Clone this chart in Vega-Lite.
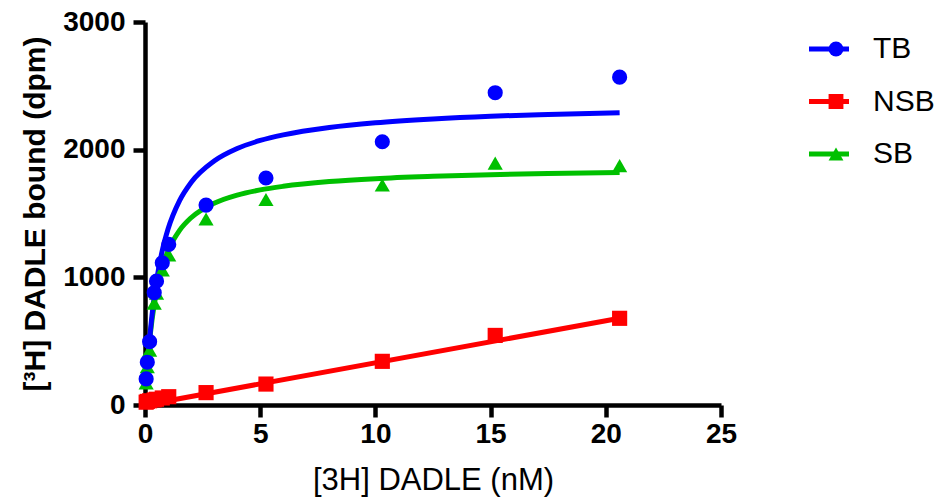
{
  "$schema": "https://vega.github.io/schema/vega-lite/v6.json",
  "width": 576,
  "height": 383,
  "autosize": {"type": "none"},
  "padding": {"left": 145, "top": 22, "right": 219, "bottom": 96},
  "background": "white",
  "config": {
    "view": {"stroke": null},
    "font": "Liberation Sans",
    "axis": {
      "grid": false,
      "domainColor": "black",
      "domainWidth": 4.5,
      "tickColor": "black",
      "tickWidth": 4.5,
      "tickSize": 12,
      "labelFont": "Liberation Sans",
      "labelFontWeight": "bold",
      "labelFontSize": 28,
      "labelColor": "black",
      "labelFlush": false,
      "labelOverlap": false,
      "format": "d",
      "titleColor": "black",
      "titleFont": "Liberation Sans"
    }
  },
  "datasets": {
    "pts": [
      {"series": "SB", "x": 0.05, "y": 172}, {"series": "SB", "x": 0.1, "y": 300}, {"series": "SB", "x": 0.2, "y": 430}, {"series": "SB", "x": 0.4, "y": 798}, {"series": "SB", "x": 0.5, "y": 875}, {"series": "SB", "x": 0.75, "y": 1057}, {"series": "SB", "x": 1.03, "y": 1175}, {"series": "SB", "x": 2.65, "y": 1457}, {"series": "SB", "x": 5.25, "y": 1610}, {"series": "SB", "x": 10.3, "y": 1723}, {"series": "SB", "x": 15.2, "y": 1895}, {"series": "SB", "x": 20.6, "y": 1875},
      {"series": "TB", "x": 0.05, "y": 204}, {"series": "TB", "x": 0.1, "y": 335}, {"series": "TB", "x": 0.2, "y": 496}, {"series": "TB", "x": 0.4, "y": 880}, {"series": "TB", "x": 0.5, "y": 970}, {"series": "TB", "x": 0.75, "y": 1114}, {"series": "TB", "x": 1.03, "y": 1258}, {"series": "TB", "x": 2.65, "y": 1566}, {"series": "TB", "x": 5.25, "y": 1778}, {"series": "TB", "x": 10.3, "y": 2062}, {"series": "TB", "x": 15.2, "y": 2446}, {"series": "TB", "x": 20.6, "y": 2568},
      {"series": "NSB", "x": 0.05, "y": 22}, {"series": "NSB", "x": 0.1, "y": 28}, {"series": "NSB", "x": 0.2, "y": 33}, {"series": "NSB", "x": 0.4, "y": 40}, {"series": "NSB", "x": 0.5, "y": 45}, {"series": "NSB", "x": 0.75, "y": 55}, {"series": "NSB", "x": 1.03, "y": 65}, {"series": "NSB", "x": 2.65, "y": 97}, {"series": "NSB", "x": 5.25, "y": 164}, {"series": "NSB", "x": 10.3, "y": 342}, {"series": "NSB", "x": 15.2, "y": 545}, {"series": "NSB", "x": 20.6, "y": 679}
    ],
    "fit": [
      {"curve": "SB", "x": 0.05, "y": 156}, {"curve": "SB", "x": 0.1, "y": 288}, {"curve": "SB", "x": 0.2, "y": 499}, {"curve": "SB", "x": 0.3, "y": 660}, {"curve": "SB", "x": 0.5, "y": 891}, {"curve": "SB", "x": 0.75, "y": 1079}, {"curve": "SB", "x": 1, "y": 1207}, {"curve": "SB", "x": 1.5, "y": 1368}, {"curve": "SB", "x": 2, "y": 1467}, {"curve": "SB", "x": 3, "y": 1580}, {"curve": "SB", "x": 4, "y": 1644}, {"curve": "SB", "x": 5, "y": 1685}, {"curve": "SB", "x": 6, "y": 1713}, {"curve": "SB", "x": 8, "y": 1750}, {"curve": "SB", "x": 10, "y": 1773}, {"curve": "SB", "x": 12.5, "y": 1791}, {"curve": "SB", "x": 15, "y": 1804}, {"curve": "SB", "x": 17.5, "y": 1813}, {"curve": "SB", "x": 20.6, "y": 1821},
      {"curve": "TB", "x": 0.05, "y": 154}, {"curve": "TB", "x": 0.1, "y": 289}, {"curve": "TB", "x": 0.2, "y": 515}, {"curve": "TB", "x": 0.3, "y": 697}, {"curve": "TB", "x": 0.5, "y": 971}, {"curve": "TB", "x": 0.75, "y": 1209}, {"curve": "TB", "x": 1, "y": 1378}, {"curve": "TB", "x": 1.5, "y": 1601}, {"curve": "TB", "x": 2, "y": 1743}, {"curve": "TB", "x": 3, "y": 1911}, {"curve": "TB", "x": 4, "y": 2009}, {"curve": "TB", "x": 5, "y": 2072}, {"curve": "TB", "x": 6, "y": 2116}, {"curve": "TB", "x": 8, "y": 2174}, {"curve": "TB", "x": 10, "y": 2211}, {"curve": "TB", "x": 12.5, "y": 2241}, {"curve": "TB", "x": 15, "y": 2262}, {"curve": "TB", "x": 17.5, "y": 2276}, {"curve": "TB", "x": 20.6, "y": 2290},
      {"curve": "NSB", "x": 0.05, "y": 2}, {"curve": "NSB", "x": 20.6, "y": 680}
    ]
  },
  "layer": [
    {
      "data": {"name": "fit"},
      "mark": {"type": "line", "strokeWidth": 5, "interpolate": "monotone"},
      "encoding": {
        "x": {
          "field": "x", "type": "quantitative",
          "scale": {"domain": [0, 25], "nice": false},
          "axis": {"values": [0, 5, 10, 15, 20, 25], "title": "[3H] DADLE (nM)", "titleFontSize": 31, "titleFontWeight": "normal", "titlePadding": 17, "labelPadding": 3}
        },
        "y": {
          "field": "y", "type": "quantitative",
          "scale": {"domain": [0, 3000], "nice": false},
          "axis": {"values": [0, 1000, 2000, 3000], "title": "[³H] DADLE bound (dpm)", "titleFontSize": 30, "titleFontWeight": "bold", "titlePadding": 12, "labelPadding": 8}
        },
        "stroke": {
          "field": "curve", "type": "nominal",
          "sort": ["TB", "NSB", "SB"],
          "scale": {"range": ["#0000ff", "#ff0000", "#00c000"]},
          "legend": {"orient": "none", "legendX": 661.5, "legendY": 7, "title": null, "padding": 0, "symbolType": "stroke", "symbolSize": 1600, "symbolStrokeWidth": 5, "labelFont": "Liberation Sans", "labelFontSize": 30, "labelFontWeight": "normal", "labelColor": "black", "labelOffset": 21.5, "clipHeight": 40, "rowPadding": 12.5}
        }
      }
    },
    {
      "data": {"name": "pts"},
      "mark": {"type": "point", "filled": true, "opacity": 1, "size": 230},
      "encoding": {
        "x": {"field": "x", "type": "quantitative"},
        "y": {"field": "y", "type": "quantitative"},
        "color": {
          "field": "series", "type": "nominal",
          "scale": {"domain": ["TB", "NSB", "SB"], "range": ["#0000ff", "#ff0000", "#00c000"]},
          "legend": {"orient": "none", "legendX": 676, "legendY": 7, "title": null, "padding": 0, "symbolSize": 220, "symbolStrokeWidth": 0, "symbolOpacity": 1, "labelFontSize": 30, "labelExpr": "''", "labelOffset": 0, "clipHeight": 40, "rowPadding": 12.5}
        },
        "shape": {
          "field": "series", "type": "nominal",
          "scale": {"domain": ["TB", "NSB", "SB"], "range": ["circle", "square", "triangle-up"]},
          "legend": {"orient": "none", "legendX": 676, "legendY": 7, "title": null, "padding": 0, "symbolSize": 220, "symbolStrokeWidth": 0, "symbolOpacity": 1, "labelFontSize": 30, "labelExpr": "''", "labelOffset": 0, "clipHeight": 40, "rowPadding": 12.5}
        }
      }
    }
  ]
}
